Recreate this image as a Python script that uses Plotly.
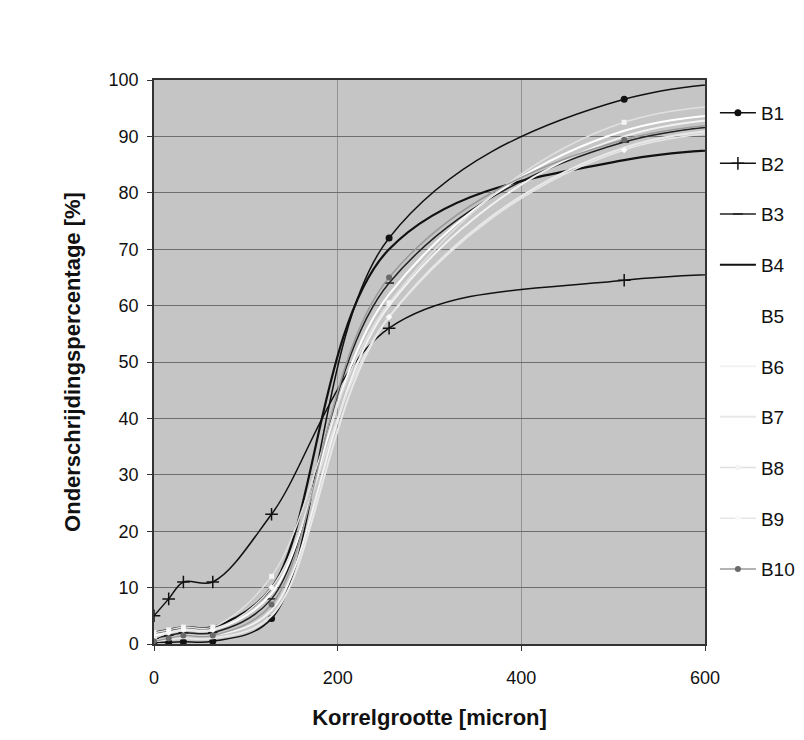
import plotly.graph_objects as go

# Sieve sizes (micron)
korrel = [0, 16, 32, 64, 128, 256, 512, 1024]

B1 = [0.3, 0.3, 0.4, 0.5, 4.5, 72.0, 96.6, 98.0]
B2 = [5.0, 8.0, 11.0, 11.0, 23.0, 56.0, 64.5, 65.3]
B3 = [1.0, 1.5, 2.0, 2.0, 8.0, 64.0, 89.0, 90.5]
B4 = [2.0, 2.5, 3.0, 3.0, 10.0, 70.0, 85.8, 86.5]
B5 = [1.5, 2.0, 2.5, 2.5, 9.0, 62.0, 91.0, 90.5]
B6 = [0.5, 1.0, 1.5, 1.5, 6.0, 60.0, 90.0, 90.5]
B7 = [0.5, 0.8, 1.0, 1.0, 5.0, 58.0, 88.0, 89.0]
B8 = [2.0, 2.5, 3.0, 3.0, 12.0, 60.5, 92.5, 91.0]
B9 = [1.0, 2.0, 2.5, 2.5, 10.0, 58.0, 87.6, 88.5]
B10 = [0.5, 1.0, 1.5, 1.5, 7.0, 65.0, 89.4, 90.5]

series = [
    ("B1", B1, dict(color="#111111", width=1.5), dict(symbol="circle", size=7, color="#111111")),
    ("B2", B2, dict(color="#111111", width=1.5), dict(symbol="cross-thin", size=9, line=dict(color="#111111", width=1.5))),
    ("B3", B3, dict(color="#222222", width=1.5), dict(symbol="line-ew", size=7, line=dict(color="#222222", width=1.5))),
    ("B4", B4, dict(color="#111111", width=2.2), dict(symbol="line-ew", size=1, line=dict(color="#111111", width=0))),
    ("B5", B5, dict(color="#ffffff", width=2), dict(symbol="circle", size=1, color="rgba(0,0,0,0)")),
    ("B6", B6, dict(color="#f2f2f2", width=2), dict(symbol="circle", size=1, color="rgba(0,0,0,0)")),
    ("B7", B7, dict(color="#e8e8e8", width=2), dict(symbol="circle", size=1, color="rgba(0,0,0,0)")),
    ("B8", B8, dict(color="#e0e0e0", width=1.5), dict(symbol="square", size=5, color="#f4f4f4")),
    ("B9", B9, dict(color="#e6e6e6", width=1.5), dict(symbol="diamond", size=5, color="#fafafa")),
    ("B10", B10, dict(color="#9a9a9a", width=1.5), dict(symbol="circle", size=6, color="#6a6a6a")),
]

fig = go.Figure()
for i, (name, vals, ln, mk) in enumerate(series):
    fig.add_trace(go.Scatter(
        x=korrel, y=vals, name=name, mode="lines+markers",
        line=dict(shape="spline", smoothing=1.0, **ln),
        marker=mk, legendgroup=name,
    ))

fig.update_layout(
    width=796, height=732,
    paper_bgcolor="white",
    plot_bgcolor="#c5c5c5",
    margin=dict(l=146, r=99, t=72, b=96, autoexpand=False),
    font=dict(family="Liberation Sans, Arial, sans-serif", size=18, color="#111111"),
    showlegend=True,
    legend=dict(
        x=1.018, xanchor="left", y=0.9755, yanchor="top",
        bgcolor="rgba(0,0,0,0)", borderwidth=0,
        tracegroupgap=23, itemwidth=36,
        font=dict(size=19, color="#111111"),
    ),
)

fig.update_xaxes(
    range=[0, 600], tickvals=[0, 200, 400, 600],
    showgrid=True, gridcolor="#939393", gridwidth=1,
    showline=True, linecolor="#333333", linewidth=1.5, mirror=True,
    ticks="outside", ticklen=5, tickcolor="#333333",
    ticklabelstandoff=12,
    zeroline=False,
    title=dict(text="<b>Korrelgrootte [micron]</b>", font=dict(size=22), standoff=22),
)
fig.update_yaxes(
    range=[0, 100], dtick=10,
    showgrid=True, gridcolor="#6e6e6e", gridwidth=1,
    showline=True, linecolor="#333333", linewidth=1.5, mirror=True,
    ticks="outside", ticklen=5, tickcolor="#333333",
    ticklabelstandoff=5,
    zeroline=False,
    title=dict(text="<b>Onderschrijdingspercentage [%]</b>", font=dict(size=22), standoff=22),
)

fig.write_html("out.html")
